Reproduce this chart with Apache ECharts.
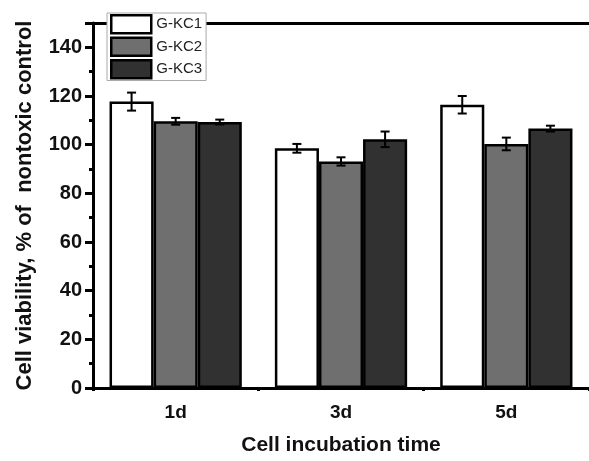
<!DOCTYPE html>
<html>
<head>
<meta charset="utf-8">
<script src="https://cdn.jsdelivr.net/npm/echarts@6/dist/echarts.min.js"></script>
<style>
  html, body { margin: 0; padding: 0; background: #fff; }
  #chart { width: 589px; height: 461px; }
</style>
</head>
<body>
<div id="chart"></div>
<script>
// values
const days = ['1d', '3d', '5d']
const names = ['G-KC1', 'G-KC2', 'G-KC3']
const colors = ['#ffffff', '#6f6f6f', '#313131']
const kc1 = [117.7, 98.5, 116.4]
const kc2 = [109.6, 93.1, 100.3]
const kc3 = [109.3, 102.2, 106.6]
const kc1Err = [3.7, 1.8, 3.6]
const kc2Err = [1.4, 1.7, 2.6]
const kc3Err = [1.0, 3.2, 1.2]

const means = [kc1, kc2, kc3]
const errs = [kc1Err, kc2Err, kc3Err]
const font = '"Liberation Sans", Arial, sans-serif'

let chart = echarts.init(document.getElementById('chart'))

let barSeries = names.map((n, i) => ({
  name: n,
  type: 'bar',
  barGap: '0%',
  barCategoryGap: '20%',
  itemStyle: { color: colors[i], borderColor: '#000', borderWidth: 2.5 },
  data: means[i]
}))

let errSeries = names.map((n, i) => ({
  type: 'custom',
  z: 5,
  silent: true,
  data: means[i].map((v, k) => [k, v, errs[i][k]]),
  renderItem: function (params, api) {
    let band = api.size([1, 0])[0]
    let bw = band * 0.8 / 3
    let off = (i - 1) * bw
    let hi = api.coord([api.value(0), api.value(1) + api.value(2)])
    let lo = api.coord([api.value(0), api.value(1) - api.value(2)])
    let x = hi[0] + off
    let cap = 4.5
    let st = { stroke: '#000', lineWidth: 2 }
    return {
      type: 'group',
      children: [
        { type: 'line', shape: { x1: x, y1: hi[1], x2: x, y2: lo[1] }, style: st },
        { type: 'line', shape: { x1: x - cap, y1: hi[1], x2: x + cap, y2: hi[1] }, style: st },
        { type: 'line', shape: { x1: x - cap, y1: lo[1], x2: x + cap, y2: lo[1] }, style: st }
      ]
    }
  }
}))

chart.setOption({
  animation: false,
  textStyle: { fontFamily: font },
  grid: { left: 93, top: 23, bottom: 68, right: -2 },
  legend: {
    data: names,
    icon: 'rect',
    orient: 'vertical',
    left: 107,
    top: 13,
    padding: [1, 4, 1, 3],
    itemWidth: 40,
    itemHeight: 18,
    itemGap: 2,
    backgroundColor: '#fff',
    borderColor: '#aaa',
    borderWidth: 1,
    itemStyle: { borderColor: '#000', borderWidth: 2.5 },
    textStyle: { fontFamily: font, fontSize: 15, color: '#222' },
    z: 10
  },
  xAxis: [
    {
      type: 'category',
      data: days,
      position: 'bottom',
      name: 'Cell incubation time',
      nameLocation: 'middle',
      nameGap: 47,
      nameTextStyle: { fontFamily: font, fontSize: 21, fontWeight: 'bold', color: '#111' },
      axisLine: { lineStyle: { color: '#000', width: 3 } },
      axisTick: { alignWithLabel: true, length: 7, lineStyle: { color: '#000', width: 3 } },
      axisLabel: { margin: 15, fontFamily: font, fontSize: 19, fontWeight: 'bold', color: '#111' },
      splitLine: { show: false }
    },
    {
      type: 'value',
      position: 'bottom',
      min: 0,
      max: 3,
      interval: 1,
      axisLine: { show: false },
      axisTick: { length: 3, lineStyle: { color: '#000', width: 3 } },
      axisLabel: { show: false },
      splitLine: { show: false }
    },
    {
      type: 'value',
      position: 'top',
      min: 0,
      max: 3,
      axisLine: { show: true, lineStyle: { color: '#000', width: 3 } },
      axisTick: { show: false },
      axisLabel: { show: false },
      splitLine: { show: false }
    }
  ],
  yAxis: {
    type: 'value',
    min: 0,
    max: 150,
    interval: 20,
    name: 'Cell viability, % of  nontoxic control',
    nameLocation: 'middle',
    nameGap: 57,
    nameRotate: 90,
    nameTextStyle: { fontFamily: font, fontSize: 22, fontWeight: 'bold', color: '#111' },
    axisLine: { show: true, lineStyle: { color: '#000', width: 3 } },
    axisTick: { show: true, length: 8, lineStyle: { color: '#000', width: 3 } },
    minorTick: { show: true, splitNumber: 2, length: 4, lineStyle: { color: '#000', width: 3 } },
    axisLabel: {
      margin: 11,
      fontFamily: font,
      fontSize: 20,
      fontWeight: 'bold',
      color: '#111',
      formatter: v => (v > 140 ? '' : String(v))
    },
    splitLine: { show: false }
  },
  series: barSeries.concat(errSeries)
})
</script>
</body>
</html>
